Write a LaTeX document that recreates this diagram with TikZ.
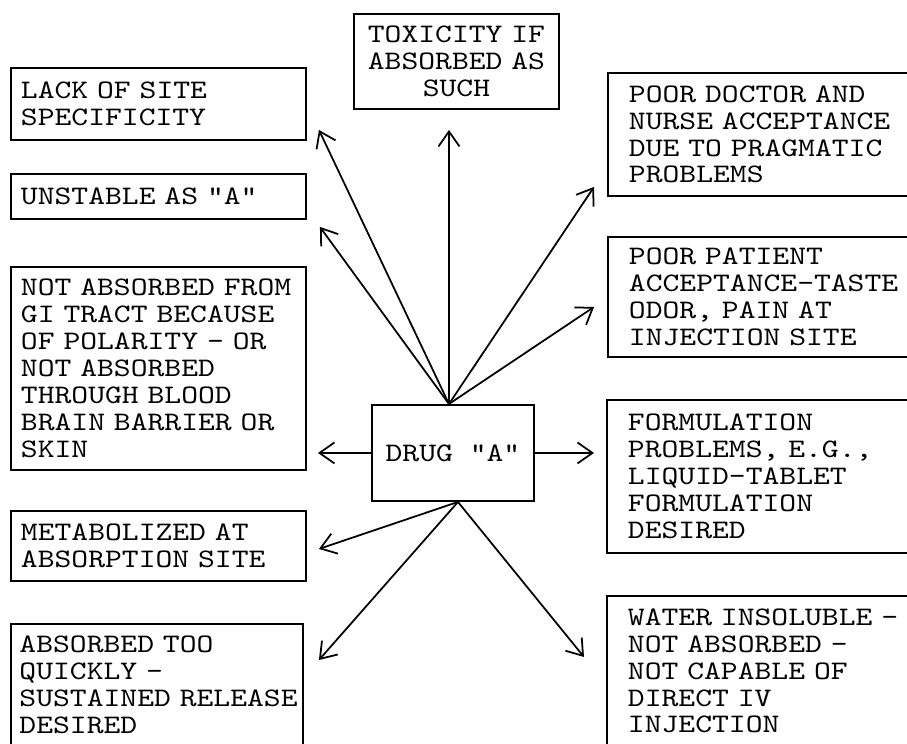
\documentclass[tikz,border=0pt]{standalone}
\usepackage{fontspec}
\newfontfamily\typefont[FakeStretch=1.2]{lmmono10-regular.otf}
\usepackage{tikz}
\usetikzlibrary{positioning,arrows.meta}

\begin{document}
\begin{tikzpicture}[
		>={Straight Barb[length=0.3cm,width=0.42cm]},
		every node/.style={
			draw,
			line width=1.1pt,
			anchor=north west,
			inner ysep=0pt,
			font=\typefont\fontsize{15.2}{15.3}\selectfont
		},
		leftbox/.style={
			inner xsep=0.2cm,
			text width=5.5cm,
			align=left
		},
		rightbox/.style={
			inner xsep=0.42cm,
			text width=6cm,
			align=left
		},
		link/.style={->,line width=1pt}
		]
		
		\useasboundingbox (0,0) rectangle (18.14,14.86);
		\clip (0,0) rectangle (18.14,14.86);
		
		\node[inner xsep=0.1cm,text width=3.9cm,align=center,minimum height=1.9cm]
		(toxicity) at (7.06,14.60)
		{TOXICITY IF\\ABSORBED AS\\SUCH};
		
		\node[leftbox,minimum height=1.44cm] (specificity) at (0.2,13.52)
		{LACK OF SITE\\SPECIFICITY};
		
		\node[leftbox,minimum height=0.9cm] (unstable) at (0.2,11.40)
		{UNSTABLE AS "A"};
		
		\node[leftbox,minimum height=4.06cm] (absorption) at (0.2,9.54)
		{\mbox{NOT ABSORBED FROM}\\GI TRACT BECAUSE\\OF POLARITY - OR\\NOT ABSORBED\\THROUGH BLOOD\\BRAIN BARRIER OR\\SKIN};
		
		\node[leftbox,minimum height=1.4cm] (metabolized) at (0.2,4.66)
		{METABOLIZED AT\\ABSORPTION SITE};
		
		\node[leftbox,inner xsep=0.17cm,text width=5.5cm,minimum height=2.44cm] (quickly) at (0.2,2.40)
		{ABSORBED TOO\\QUICKLY -\\\mbox{SUSTAINED RELEASE}\\DESIRED};
		
		\node[rightbox,minimum height=2.46cm] (doctor) at (12.14,13.42)
		{POOR DOCTOR AND\\NURSE ACCEPTANCE\\DUE TO PRAGMATIC\\PROBLEMS};
		
		\node[rightbox,minimum height=2.4cm] (patient) at (12.14,10.14)
		{POOR PATIENT\\ACCEPTANCE-TASTE\\ODOR, PAIN AT\\INJECTION SITE};
		
		\node[rightbox,minimum height=3.06cm] (formulation) at (12.12,6.88)
		{FORMULATION\\PROBLEMS, E.G.,\\LIQUID-TABLET\\FORMULATION\\DESIRED};
		
		\node[rightbox,minimum height=3cm] (insoluble) at (12.12,2.96)
		{WATER INSOLUBLE -\\NOT ABSORBED -\\NOT CAPABLE OF\\DIRECT IV\\INJECTION};
		
		\node[minimum width=3.24cm,minimum height=1.92cm] (drug) at (7.42,6.78)
		{DRUG "A"};
		
		\coordinate (hub) at ([xshift=-0.08cm]drug.north);
		\coordinate (foot) at ([xshift=0.1cm]drug.south);
		
		\draw[link] (hub)--([shift={(0.24,0.22)}]specificity.south east);
		\draw[link] (hub)--([shift={(0.26,-0.14)}]unstable.south east);
		\draw[link,shorten >=0.4cm] (hub)--(hub |- toxicity.south);
		\draw[link] (hub)--([shift={(-0.26,0.2)}]doctor.south west);
		\draw[link] (hub)--([shift={(-0.26,-0.2)}]patient.west);
		\draw[link,shorten >=0.22cm] (drug.west)--(drug.west -| absorption.east);
		\draw[link,shorten >=0.24cm] (drug.east)--(drug.east -| formulation.west);
		\draw[link] (foot)--([shift={(0.24,-0.06)}]metabolized.east);
		\draw[link] (foot)--([shift={(0.3,-0.74)}]quickly.north east);
		\draw[link] (foot)--([shift={(-0.44,0.28)}]insoluble.west);
		
	\end{tikzpicture}
\end{document}
